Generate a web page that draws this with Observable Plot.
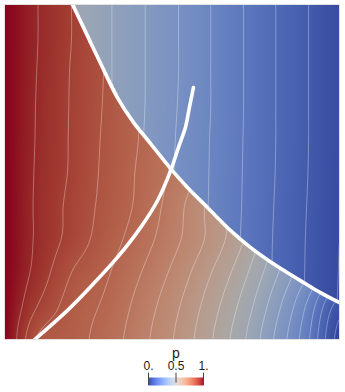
<!DOCTYPE html>
<html><head><meta charset="utf-8">
<script src="https://cdn.jsdelivr.net/npm/d3@7"></script>
<script src="https://cdn.jsdelivr.net/npm/@observablehq/plot@0.6"></script>
<style>
html,body{margin:0;padding:0;background:#fff;}
#chart{width:345px;}
svg{display:block;}
</style></head><body><div id="chart"></div>
<script>
// grid coordinates (x to the right, y downward, both 0..1)
const gridX = [0, 0.1, 0.2, 0.3, 0.4, 0.5, 0.6, 0.7, 0.8, 0.9, 1];
const gridY = [0, 0.1, 0.2, 0.3, 0.4, 0.5, 0.6, 0.7, 0.8, 0.9, 1];

// p behind the shock (left / lower state), rows from top to bottom
const pLeft = [
  [1.0, 0.95, 0.90, 0.85, 0.80, 0.76, 0.72, 0.68, 0.64, 0.60, 0.55],
  [1.0, 0.95, 0.90, 0.85, 0.80, 0.76, 0.72, 0.68, 0.64, 0.59, 0.53],
  [1.0, 0.948, 0.897, 0.848, 0.80, 0.758, 0.72, 0.68, 0.63, 0.57, 0.50],
  [1.0, 0.946, 0.896, 0.846, 0.80, 0.757, 0.715, 0.67, 0.61, 0.54, 0.46],
  [1.0, 0.945, 0.895, 0.843, 0.80, 0.755, 0.71, 0.65, 0.57, 0.48, 0.38],
  [1.0, 0.943, 0.894, 0.84, 0.795, 0.745, 0.69, 0.62, 0.53, 0.43, 0.32],
  [1.0, 0.941, 0.887, 0.836, 0.791, 0.729, 0.65, 0.58, 0.49, 0.39, 0.28],
  [1.0, 0.941, 0.882, 0.826, 0.777, 0.718, 0.6475, 0.564, 0.46, 0.35, 0.24],
  [1.0, 0.931, 0.85, 0.808, 0.755, 0.692, 0.615, 0.528, 0.42, 0.31, 0.20],
  [1.0, 0.898, 0.828, 0.7925, 0.735, 0.668, 0.5875, 0.495, 0.381, 0.248, 0.075],
  [1.0, 0.845, 0.818, 0.78, 0.722, 0.653, 0.57, 0.472, 0.354, 0.219, 0.03]
];
// p ahead of the shock (upper right state)
const pRight = [
  [0.55, 0.50, 0.455, 0.41, 0.36, 0.31, 0.258, 0.207, 0.155, 0.104, 0.055],
  [0.55, 0.50, 0.455, 0.41, 0.36, 0.31, 0.258, 0.207, 0.155, 0.104, 0.055],
  [0.55, 0.50, 0.455, 0.41, 0.36, 0.31, 0.258, 0.207, 0.155, 0.104, 0.055],
  [0.55, 0.50, 0.455, 0.41, 0.36, 0.308, 0.258, 0.207, 0.155, 0.104, 0.055],
  [0.55, 0.50, 0.455, 0.41, 0.358, 0.305, 0.256, 0.206, 0.155, 0.104, 0.055],
  [0.55, 0.50, 0.455, 0.41, 0.357, 0.303, 0.255, 0.205, 0.154, 0.103, 0.054],
  [0.547, 0.497, 0.452, 0.407, 0.355, 0.302, 0.254, 0.204, 0.152, 0.101, 0.052],
  [0.545, 0.495, 0.45, 0.405, 0.354, 0.301, 0.253, 0.202, 0.150, 0.099, 0.050],
  [0.544, 0.494, 0.449, 0.404, 0.353, 0.300, 0.252, 0.201, 0.149, 0.098, 0.049],
  [0.543, 0.493, 0.448, 0.403, 0.352, 0.299, 0.251, 0.200, 0.148, 0.097, 0.048],
  [0.542, 0.492, 0.447, 0.402, 0.351, 0.298, 0.250, 0.199, 0.147, 0.096, 0.047]
];

// shock front (thick white curve, top edge to right edge)
const shockX = [0.203, 0.236, 0.287, 0.337, 0.385, 0.436, 0.496, 0.546, 0.606, 0.675, 0.734, 0.788, 0.839, 0.893, 0.943, 1.0];
const shockY = [0.0, 0.069, 0.176, 0.278, 0.352, 0.415, 0.490, 0.546, 0.606, 0.675, 0.725, 0.764, 0.797, 0.830, 0.860, 0.890];
// second thick curve (bottom edge up to its free end)
const curveX = [0.09, 0.188, 0.266, 0.337, 0.406, 0.457, 0.496, 0.519, 0.540, 0.552, 0.564];
const curveY = [1.0, 0.913, 0.833, 0.755, 0.666, 0.585, 0.496, 0.427, 0.367, 0.307, 0.248];

const contourLevels = [0.05, 0.1, 0.15, 0.2, 0.25, 0.3, 0.35, 0.4, 0.45, 0.5, 0.55, 0.6, 0.65, 0.7, 0.75, 0.8, 0.85, 0.9, 0.95];

// Cool to Warm colour map
const coolWarm = [
  [59,76,192],[68,90,204],[77,104,215],[87,117,225],[98,130,234],[108,142,241],[119,154,247],[130,165,251],
  [141,176,254],[152,185,255],[163,194,255],[174,201,253],[184,208,249],[194,213,244],[204,217,238],[213,219,230],
  [221,221,221],[229,216,209],[236,211,197],[241,204,185],[245,196,173],[247,187,160],[247,177,148],[247,166,135],
  [244,154,123],[241,141,111],[236,127,99],[229,112,88],[222,96,77],[213,80,66],[203,62,56],[192,40,47],[180,4,38]
];
const legendTitle = "p";
const legendTicks = [0, 0.5, 1];
const legendTickLabels = ["0.", "0.5", "1."];

const cmStops = coolWarm.map((c, i) => i / (coolWarm.length - 1));
const cmColors = coolWarm.map(c => d3.rgb(c[0], c[1], c[2]).formatHex());
const shade = 0.76;
const cmShaded = coolWarm.map(c => d3.rgb(c[0] * shade, c[1] * shade, c[2] * shade).formatHex());

// smooth (Catmull-Rom) interpolation between the grid samples
function cr(p0, p1, p2, p3, t) {
  return p1 + 0.5 * t * (p2 - p0 + t * (2 * p0 - 5 * p1 + 4 * p2 - p3 + t * (3 * (p1 - p2) + p3 - p0)));
}
function lookup(grid, u, v) {
  const nx = gridX.length, ny = gridY.length;
  u = Math.max(gridX[0], Math.min(gridX[nx - 1], u));
  v = Math.max(gridY[0], Math.min(gridY[ny - 1], v));
  const i = Math.min(nx - 2, Math.max(0, d3.bisectRight(gridX, u) - 1));
  const j = Math.min(ny - 2, Math.max(0, d3.bisectRight(gridY, v) - 1));
  const fx = (u - gridX[i]) / (gridX[i + 1] - gridX[i]);
  const fy = (v - gridY[j]) / (gridY[j + 1] - gridY[j]);
  const ci = k => Math.max(0, Math.min(nx - 1, k));
  const cj = k => Math.max(0, Math.min(ny - 1, k));
  const rows = [];
  for (let dj = -1; dj <= 2; dj++) {
    const r = grid[cj(j + dj)];
    rows.push(cr(r[ci(i - 1)], r[ci(i)], r[ci(i + 1)], r[ci(i + 2)], fx));
  }
  return cr(rows[0], rows[1], rows[2], rows[3], fy);
}
function shockAt(v) {
  if (v >= shockY[shockY.length - 1]) return Infinity;
  if (v <= shockY[0]) return shockX[0];
  const k = Math.min(shockY.length - 2, d3.bisectRight(shockY, v) - 1);
  const t = (v - shockY[k]) / (shockY[k + 1] - shockY[k]);
  return shockX[k] + t * (shockX[k + 1] - shockX[k]);
}
function field(u, v) {
  return u < shockAt(v) ? lookup(pLeft, u, v) : lookup(pRight, u, v);
}

const shockPts = shockX.map((x, i) => ({x, y: shockY[i]}));
const curvePts = curveX.map((x, i) => ({x, y: curveY[i]}));

const main = Plot.plot({
  width: 345, height: 343,
  marginLeft: 4, marginRight: 6, marginTop: 4, marginBottom: 4,
  x: {domain: [0, 1], axis: null},
  y: {domain: [0, 1], reverse: true, axis: null},
  color: {type: "linear", domain: cmStops, range: cmShaded},
  marks: [
    Plot.raster({fill: field, x1: 0, x2: 1, y1: 0, y2: 1, pixelSize: 1}),
    Plot.contour({value: field, x1: -0.02, x2: 1.02, y1: -0.02, y2: 1.02, thresholds: contourLevels,
      stroke: "white", strokeOpacity: 0.36, strokeWidth: 0.9, fill: "none", clip: true}),
    Plot.line(shockPts, {x: "x", y: "y", stroke: "white", strokeWidth: 3.6, curve: "catmull-rom", clip: true}),
    Plot.line(curvePts, {x: "x", y: "y", stroke: "white", strokeWidth: 3.6, curve: "catmull-rom", clip: true}),
    Plot.frame({stroke: "#e2e2e2"})
  ]
});

const legend = Plot.plot({
  width: 345, height: 49,
  marginLeft: 148, marginRight: 142, marginTop: 34, marginBottom: 7,
  x: {domain: [0, 1], axis: null},
  y: {domain: [0, 1], axis: null},
  color: {type: "linear", domain: cmStops, range: cmColors},
  style: {fontFamily: "'Liberation Sans', Arial, sans-serif", color: "#222"},
  marks: [
    Plot.raster({fill: (x, y) => x, x1: 0, x2: 1, y1: 0, y2: 1}),
    Plot.ruleX(legendTicks, {x: d => d, y1: d => (d === 0.5 ? 0.3 : 0), y2: 1.55, stroke: "#444", strokeWidth: 1}),
    Plot.text(legendTicks, {x: d => d, y: 1.55, text: (d, i) => legendTickLabels[i], lineAnchor: "bottom", dy: -3, fontSize: 12, fill: "#222"}),
    Plot.text([legendTitle], {x: 0.5, y: 3.5, text: d => d, lineAnchor: "bottom", fontSize: 14, fill: "#222"})
  ]
});

document.getElementById("chart").append(main, legend);
</script></body></html>
